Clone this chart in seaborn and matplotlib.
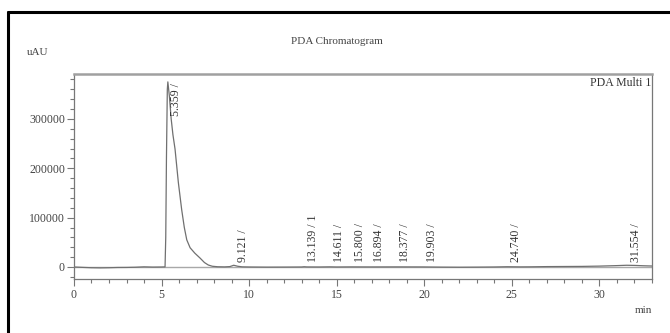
# PDA chromatogram recreated with seaborn / matplotlib
import numpy as np
import pandas as pd
import seaborn as sns
import matplotlib.pyplot as plt
from matplotlib.lines import Line2D
from matplotlib.ticker import MultipleLocator

# %%
# signal (time in min, response in uAU)
time_min = [0.0, 0.5, 1.0, 1.5, 2.0, 2.5, 3.0, 3.5, 4.0, 4.5, 5.0, 5.2,
            5.24, 5.28, 5.33, 5.36, 5.45, 5.55, 5.65, 5.77, 5.96, 6.15,
            6.3, 6.44, 6.63, 6.9, 7.2, 7.45, 7.67, 7.9, 8.2, 8.6, 8.9,
            9.12, 9.35, 9.6, 10.0, 11.0, 12.0, 13.0, 13.14, 13.3, 14.0,
            14.6, 15.0, 15.8, 16.9, 18.4, 19.9, 21.0, 22.0, 23.0, 24.0,
            24.74, 25.5, 26.0, 27.0, 28.0, 29.0, 30.0, 31.0, 31.55, 32.0,
            32.5, 33.0]
signal = [0, -800, -1500, -1800, -1500, -1000, -900, -500, 300, -200, 0, 200,
          60000, 220000, 360000, 375000, 345000, 300000, 268000, 239000,
          171000, 116000, 80000, 55000, 39000, 28000, 18000, 9000, 4000,
          1500, 500, 200, 800, 3500, 1500, 300, 0, -300, -200, 0, 500, 100,
          0, 300, 0, 200, 100, 200, 100, -300, -500, -300, 0, 500, 200, 300,
          800, 1000, 1200, 1800, 2800, 3500, 3200, 2500, 2000]

# peak labels
peak_rt = [5.359, 9.121, 13.139, 14.611, 15.800, 16.894, 18.377, 19.903,
           24.740, 31.554]
peak_text = ["5.359 /", "9.121 /", "13.139 / 1", "14.611 /", "15.800 /",
             "16.894 /", "18.377 /", "19.903 /", "24.740 /", "31.554 /"]
peak_height = [375000, 3500, 500, 300, 0, 200, 100, 200, 500, 3500]

df = pd.DataFrame({"time": time_min, "signal": signal})

# %%
sns.set_style("white")
plt.rcParams['font.family'] = ['Liberation Serif', 'DejaVu Serif']

fig = plt.figure(figsize=(6.7, 3.33), dpi=100)
ax = fig.add_axes([0.1104, 0.1622, 0.8627, 0.6156])

# zero baseline then the trace
ax.axhline(0, color='#a8a8a8', lw=1.0, zorder=1)
sns.lineplot(data=df, x="time", y="signal", ax=ax, color='#707070',
             lw=0.9, zorder=2)

for rt, txt, h in zip(peak_rt, peak_text, peak_height):
    if h > 100000:
        ax.annotate(txt, xy=(rt, h), xytext=(6, -1), textcoords='offset points',
                    rotation=90, ha='center', va='top', fontsize=8.5,
                    color='#333333')
    else:
        ax.annotate(txt, xy=(rt, 0), xytext=(6.5, 3.5), textcoords='offset points',
                    rotation=90, ha='center', va='bottom', fontsize=8.5,
                    color='#333333')

ax.set(xlim=(0, 33), ylim=(-24300, 391000), xlabel='', ylabel='')
ax.xaxis.set_major_locator(MultipleLocator(5))
ax.xaxis.set_minor_locator(MultipleLocator(1))
ax.yaxis.set_major_locator(MultipleLocator(100000))
ax.yaxis.set_minor_locator(MultipleLocator(20000))
ax.tick_params(axis='both', which='major', direction='out', length=5,
               width=0.8, color='#777777', labelsize=8.5, labelcolor='#444444',
               bottom=True, left=True)
ax.tick_params(axis='y', which='major', pad=1.5)
ax.tick_params(axis='x', which='major', pad=2.5)
ax.tick_params(axis='both', which='minor', direction='out', length=3,
               width=0.8, color='#777777', bottom=True, left=True)
ax.set_yticks([0, 100000, 200000, 300000])
ax.set_yticklabels(["0", "100000", "200000", "300000"])
for side in ['left', 'bottom', 'right']:
    ax.spines[side].set_color('#777777')
    ax.spines[side].set_linewidth(0.9)
ax.spines['top'].set_color('#a0a0a0')
ax.spines['top'].set_linewidth(1.8)

ax.text(0.998, 0.985, "PDA Multi 1", transform=ax.transAxes, ha='right',
        va='top', fontsize=8.5, color='#333333')
fig.text(0.503, 0.875, "PDA Chromatogram", ha='center', va='center',
         fontsize=8, color='#444444')
fig.text(0.040, 0.843, "uAU", ha='left', va='center', fontsize=8,
         color='#444444')
fig.text(0.973, 0.069, "min", ha='right', va='center', fontsize=8,
         color='#444444')

# black frame of the screenshot (top and left edges only)
fig.add_artist(Line2D([0.012, 1.0], [0.964, 0.964], transform=fig.transFigure,
                      color='black', lw=2.2))
fig.add_artist(Line2D([0.012, 0.012], [0.0, 0.964], transform=fig.transFigure,
                      color='black', lw=2.2))

fig.savefig("out.png", dpi=100)
